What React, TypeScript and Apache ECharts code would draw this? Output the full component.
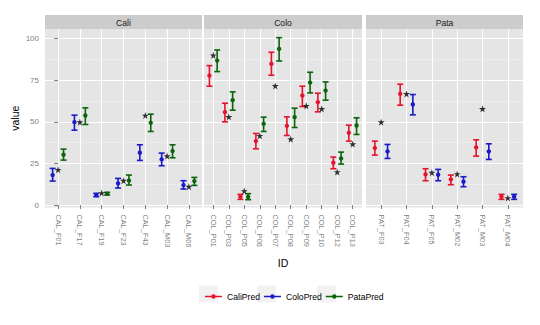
import React, { useEffect, useRef } from "react";
import * as echarts from "echarts";

// ---------- data ----------
const caliIds = ["CAL_F01", "CAL_F17", "CAL_F19", "CAL_F23", "CAL_F43", "CAL_M03", "CAL_M06"];
const coloIds = ["COL_P01", "COL_P03", "COL_P05", "COL_P06", "COL_P07", "COL_P08", "COL_P09", "COL_P10", "COL_P12", "COL_P13"];
const pataIds = ["PAT_F03", "PAT_F04", "PAT_F05", "PAT_M02", "PAT_M03", "PAT_M04"];

// Cali panel
const caliActual = [21.2, 49.8, 7.2, 14.6, 53.8, 29.4, 11];
const caliColoMean = [18, 49.8, 6, 13, 31.4, 27.4, 12];
const caliColoLo = [14.4, 45, 5, 10.2, 26.8, 23.6, 9.6];
const caliColoHi = [22, 54, 7, 16, 36.2, 31.2, 14.6];
const caliPataMean = [30.2, 53.8, 6.8, 14.6, 49.4, 32.4, 14.4];
const caliPataLo = [27, 48.4, 6, 12, 44.2, 28.4, 11.8];
const caliPataHi = [33.6, 58.4, 7.6, 18, 54.6, 36.2, 16.6];

// Colo panel
const coloActual = [90, 53, 8.4, 41.6, 71.6, 39.6, 59.6, 57.8, 19.8, 36.6];
const coloCaliMean = [77.8, 55.8, 5, 38.4, 84.8, 47.6, 65.8, 61.8, 25.4, 43.4];
const coloCaliLo = [71.4, 50, 3.4, 33.8, 78, 41.8, 59.2, 56, 21.8, 38.4];
const coloCaliHi = [83.8, 61.2, 6.4, 43, 91.8, 53, 71.4, 67.2, 28.8, 48];
const coloPataMean = [86.8, 63, 4.8, 48.8, 93.8, 52.8, 73.6, 68.8, 28, 47.8];
const coloPataLo = [80.2, 57, 3.2, 44.2, 86.6, 46.6, 67.4, 63, 24.6, 42.4];
const coloPataHi = [93.2, 68, 6.8, 52.8, 100.6, 58.2, 79.8, 74, 31.8, 52.4];

// Pata panel
const pataActual = [49.8, 66.8, 19.4, 18.6, 57.8, 4.2];
const pataCaliMean = [34.2, 66.8, 18.4, 15.4, 34.6, 5];
const pataCaliLo = [30, 60, 14.6, 12.2, 29.4, 3.4];
const pataCaliHi = [38.4, 72.6, 21.8, 18, 39.2, 6.4];
const pataColoMean = [32.2, 60.4, 18.2, 14, 32.2, 5];
const pataColoLo = [28, 54.2, 14.6, 11, 27.4, 3.4];
const pataColoHi = [36.4, 66.4, 21.4, 17, 36.8, 6.4];

const yTicks = [0, 25, 50, 75, 100];
const yMinorTicks = [12.5, 37.5, 62.5, 87.5];
const legendNames = ["CaliPred", "ColoPred", "PataPred"];

// ---------- styling ----------
const COLORS: Record<string, string> = {
  CaliPred: "#E3142B",
  ColoPred: "#1A1AC8",
  PataPred: "#0B650B",
};
const FONT = "'Liberation Sans', Arial, sans-serif";
const GREY50 = "#7F7F7F";

type Model = { name: string; mean: number[]; lo: number[]; hi: number[] };
type Panel = { title: string; ids: string[]; actual: number[]; models: Model[] };

const panels: Panel[] = [
  {
    title: "Cali",
    ids: caliIds,
    actual: caliActual,
    models: [
      { name: "ColoPred", mean: caliColoMean, lo: caliColoLo, hi: caliColoHi },
      { name: "PataPred", mean: caliPataMean, lo: caliPataLo, hi: caliPataHi },
    ],
  },
  {
    title: "Colo",
    ids: coloIds,
    actual: coloActual,
    models: [
      { name: "CaliPred", mean: coloCaliMean, lo: coloCaliLo, hi: coloCaliHi },
      { name: "PataPred", mean: coloPataMean, lo: coloPataLo, hi: coloPataHi },
    ],
  },
  {
    title: "Pata",
    ids: pataIds,
    actual: pataActual,
    models: [
      { name: "CaliPred", mean: pataCaliMean, lo: pataCaliLo, hi: pataCaliHi },
      { name: "ColoPred", mean: pataColoMean, lo: pataColoLo, hi: pataColoHi },
    ],
  },
];

const gridBoxes = [
  { left: 45, width: 157 },
  { left: 204, width: 158 },
  { left: 366, width: 157 },
];
const GRID_TOP = 29;
const GRID_H = 178.5;

const STAR =
  "path://M12 0 L14.8 8.6 L24 8.6 L16.6 14 L19.4 22.8 L12 17.4 L4.6 22.8 L7.4 14 L0 8.6 L9.2 8.6 Z";
const LEGEND_ICON =
  "path://M0 1.7 H17 V3.3 H0 Z M6.3 2.5 A2.2 2.2 0 1 1 10.7 2.5 A2.2 2.2 0 1 1 6.3 2.5 Z";

export default function App() {
  const ref = useRef<HTMLDivElement>(null);

  useEffect(() => {
    if (!ref.current) return;
    const chart = echarts.init(ref.current, null, { renderer: "svg" });

    const grids: any[] = [];
    const xAxes: any[] = [];
    const yAxes: any[] = [];
    const series: any[] = [];
    const graphics: any[] = [];

    panels.forEach((p, k) => {
      const box = gridBoxes[k];
      const n = p.ids.length;
      const idx = p.ids.map((_, i) => i);
      grids.push({
        left: box.left,
        width: box.width,
        top: GRID_TOP,
        height: GRID_H,
        show: true,
        backgroundColor: "#E5E5E5",
        borderWidth: 0,
      });
      xAxes.push({
        type: "value",
        gridIndex: k,
        min: -0.6,
        max: n - 0.4,
        name: k === 1 ? "ID" : "",
        nameLocation: "middle",
        nameGap: 50,
        nameTextStyle: { fontFamily: FONT, fontSize: 10.5, color: "#000" },
        axisLine: { show: false },
        axisTick: {
          show: true,
          customValues: idx,
          length: 4,
          lineStyle: { color: GREY50, width: 1 },
        },
        axisLabel: {
          show: true,
          customValues: idx,
          rotate: -90,
          margin: 7,
          fontFamily: FONT,
          fontSize: 7.4,
          color: GREY50,
          formatter: (v: number) => p.ids[Math.round(v)] ?? "",
        },
        splitLine: { show: true, lineStyle: { color: "#FFFFFF", width: 1 } },
      });
      yAxes.push({
        type: "value",
        gridIndex: k,
        min: -1.5,
        max: 105.8,
        name: k === 0 ? "value" : "",
        nameLocation: "middle",
        nameGap: 25,
        nameTextStyle: { fontFamily: FONT, fontSize: 10.5, color: "#000" },
        axisLine: { show: false },
        axisTick: {
          show: k === 0,
          customValues: yTicks,
          length: 4,
          lineStyle: { color: GREY50, width: 1 },
        },
        axisLabel: {
          show: k === 0,
          customValues: yTicks,
          margin: 6,
          fontFamily: FONT,
          fontSize: 8,
          color: GREY50,
        },
        splitLine: { show: true, lineStyle: { color: "#FFFFFF", width: 1 } },
      });
      yAxes.push({
        type: "value",
        gridIndex: k,
        min: -1.5,
        max: 105.8,
        position: "left",
        axisLine: { show: false },
        axisTick: { show: false, customValues: yMinorTicks },
        axisLabel: { show: false, customValues: yMinorTicks },
        splitLine: { show: true, lineStyle: { color: "#F2F2F2", width: 0.6 } },
      });

      // strip header
      graphics.push({
        type: "rect",
        shape: { x: box.left, y: 15, width: box.width, height: 14 },
        style: { fill: "#CCCCCC" },
        z: 1,
      });
      graphics.push({
        type: "text",
        x: box.left + box.width / 2,
        y: 22.5,
        style: {
          text: p.title,
          fontFamily: FONT,
          fontSize: 8.6,
          fill: "#1A1A1A",
          align: "center",
          verticalAlign: "middle",
        },
        z: 2,
      });

      p.models.forEach((m, j) => {
        const off = j === 0 ? -0.25 : 0.25;
        const color = COLORS[m.name];
        series.push({
          type: "custom",
          name: m.name,
          xAxisIndex: k,
          yAxisIndex: 2 * k,
          itemStyle: { color },
          encode: { x: 0, y: [1, 2, 3] },
          data: m.mean.map((v, i) => [i, v, m.lo[i], m.hi[i]]),
          renderItem: (_params: any, api: any) => {
            const x = api.value(0) + off;
            const pm = api.coord([x, api.value(1)]);
            const plo = api.coord([x, api.value(2)]);
            const phi = api.coord([x, api.value(3)]);
            const hw = 3;
            const ls = { stroke: color, lineWidth: 1.6 };
            return {
              type: "group",
              children: [
                { type: "line", shape: { x1: pm[0], y1: plo[1], x2: pm[0], y2: phi[1] }, style: ls },
                { type: "line", shape: { x1: pm[0] - hw, y1: phi[1], x2: pm[0] + hw, y2: phi[1] }, style: ls },
                { type: "line", shape: { x1: pm[0] - hw, y1: plo[1], x2: pm[0] + hw, y2: plo[1] }, style: ls },
                { type: "circle", shape: { cx: pm[0], cy: pm[1], r: 2.2 }, style: { fill: color } },
              ],
            };
          },
          z: 3,
        });
      });

      series.push({
        type: "scatter",
        name: "Actual",
        xAxisIndex: k,
        yAxisIndex: 2 * k,
        symbol: STAR,
        symbolSize: 7,
        itemStyle: { color: "#000000" },
        data: p.actual.map((v, i) => [i, v]),
        z: 4,
      });
    });

    // legend key backgrounds
    [199, 257, 317].forEach((x) => {
      graphics.push({
        type: "rect",
        shape: { x, y: 285.5, width: 19, height: 17 },
        style: { fill: "#F2F2F2" },
        z: 0,
      });
    });

    chart.setOption({
      animation: false,
      backgroundColor: "#FFFFFF",
      grid: grids,
      xAxis: xAxes,
      yAxis: yAxes,
      series,
      graphic: graphics,
      legend: {
        data: legendNames.map((name) => ({ name, icon: LEGEND_ICON })),
        left: 200,
        top: 287,
        itemWidth: 17,
        itemHeight: 5,
        itemGap: 4,
        selectedMode: false,
        textStyle: { fontFamily: FONT, fontSize: 8.6, color: "#000" },
      },
    });

    return () => chart.dispose();
  }, []);

  return (
    <div
      ref={ref}
      style={{ position: "fixed", left: 0, top: 0, width: 540, height: 325 }}
    />
  );
}
